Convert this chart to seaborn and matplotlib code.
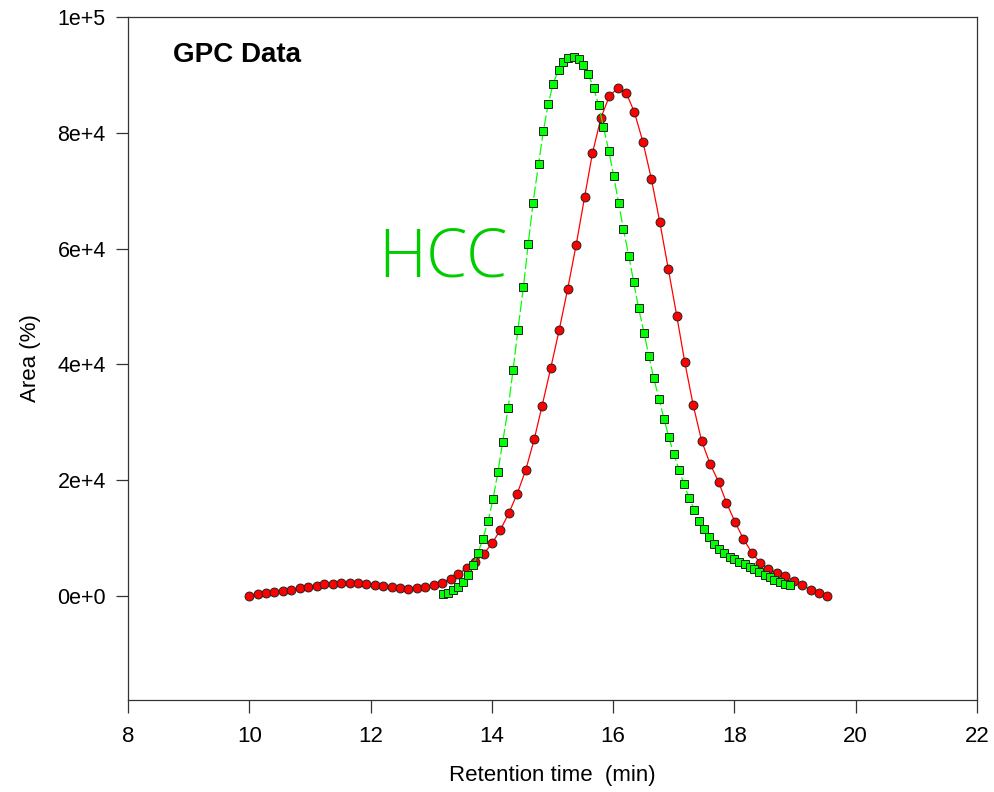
import numpy as np
import pandas as pd
import seaborn as sns
from matplotlib import pyplot as plt

# red circles (sample 1)
red_time = [10.00, 10.14, 10.28, 10.41, 10.55, 10.69, 10.83, 10.97, 11.11, 11.24,
            11.38, 11.52, 11.66, 11.80, 11.93, 12.07, 12.21, 12.35, 12.49, 12.62,
            12.76, 12.90, 13.04, 13.18, 13.32, 13.45, 13.59, 13.73, 13.87, 14.01,
            14.14, 14.28, 14.42, 14.56, 14.70, 14.83, 14.97, 15.11, 15.25, 15.39,
            15.53, 15.66, 15.80, 15.94, 16.08, 16.22, 16.35, 16.49, 16.63, 16.77,
            16.91, 17.05, 17.18, 17.32, 17.46, 17.60, 17.74, 17.87, 18.01, 18.15,
            18.29, 18.43, 18.56, 18.70, 18.84, 18.98, 19.12, 19.26, 19.39, 19.53]
red_area = [0, 345, 518, 750, 920, 1090, 1330, 1550, 1780, 2020,
            2130, 2300, 2300, 2240, 2070, 1840, 1670, 1500, 1330, 1270,
            1380, 1610, 1900, 2300, 2940, 3800, 4890, 5870, 7300, 9200,
            11400, 14300, 17700, 21800, 27100, 32900, 39300, 45900, 53000, 60600,
            68900, 76500, 82600, 86400, 87700, 86800, 83600, 78500, 72100, 64600,
            56500, 48400, 40500, 33000, 26800, 22800, 19700, 16100, 12800, 9850,
            7430, 5700, 4660, 3970, 3450, 2590, 1900, 1040, 520, 0]

# green squares (HCC)
green_time = [13.19, 13.27, 13.36, 13.44, 13.52, 13.60, 13.69, 13.77, 13.85, 13.94,
              14.02, 14.10, 14.18, 14.27, 14.35, 14.43, 14.52, 14.60, 14.68, 14.77,
              14.85, 14.93, 15.01, 15.10, 15.18, 15.26, 15.35, 15.43, 15.51, 15.59,
              15.68, 15.76, 15.84, 15.93, 16.01, 16.09, 16.17, 16.26, 16.34, 16.42,
              16.51, 16.59, 16.67, 16.76, 16.84, 16.92, 17.00, 17.09, 17.17, 17.25,
              17.34, 17.42, 17.50, 17.58, 17.67, 17.75, 17.83, 17.92, 18.00, 18.08,
              18.17, 18.25, 18.33, 18.41, 18.50, 18.58, 18.66, 18.75, 18.83, 18.91]
green_area = [290, 570, 1040, 1610, 2470, 3630, 5300, 7370, 9840, 13000,
              16750, 21360, 26650, 32520, 39030, 45940, 53310, 60790, 67920, 74560,
              80360, 84970, 88480, 90840, 92230, 92970, 93140, 92690, 91650, 90100,
              87790, 84800, 81050, 76850, 72530, 67920, 63330, 58720, 54180, 49740,
              45470, 41450, 37600, 33970, 30570, 27410, 24520, 21760, 19290, 16980,
              14900, 13000, 11520, 10190, 8980, 8120, 7370, 6790, 6340, 5920,
              5470, 5060, 4660, 4090, 3680, 3230, 2760, 2370, 2120, 1900]

yticks = [0, 20000, 40000, 60000, 80000, 100000]
ytick_labels = ['0e+0', '2e+4', '4e+4', '6e+4', '8e+4', '1e+5']
xticks = [8, 10, 12, 14, 16, 18, 20, 22]

sns.set_theme(style='ticks')
plt.rcParams['font.family'] = ['Liberation Sans', 'DejaVu Sans']
plt.rcParams['text.color'] = 'black'
plt.rcParams['axes.labelcolor'] = 'black'

df_red = pd.DataFrame({'t': red_time, 'a': red_area})
df_green = pd.DataFrame({'t': green_time, 'a': green_area})

fig = plt.figure(figsize=(9.94, 7.92), dpi=100)
ax = fig.add_axes([0.1288, 0.1162, 0.854, 0.8623])

sns.lineplot(data=df_red, x='t', y='a', ax=ax, color='#ff0000', lw=0.9,
             marker='o', markersize=6.4, markerfacecolor='#ff0000',
             markeredgecolor='#222222', markeredgewidth=0.7, sort=False,
             estimator=None, zorder=3)
sns.lineplot(data=df_green, x='t', y='a', ax=ax, color='#00ff00', lw=0.9,
             linestyle=(0, (9, 2.5)), marker='s', markersize=5.7,
             markerfacecolor='#00ff00', markeredgecolor='#222222',
             markeredgewidth=0.7, sort=False, estimator=None, zorder=4)

ax.set_xlim(8, 22)
ax.set_ylim(-17960, 100000)
ax.set_xticks(xticks)
ax.set_xticklabels([str(v) for v in xticks])
ax.set_yticks(yticks)
ax.set_yticklabels(ytick_labels)
ax.tick_params(axis='both', direction='out', length=9, width=0.9,
               color='#333333', labelcolor='black')
ax.tick_params(axis='x', labelsize=16, pad=10)
ax.tick_params(axis='y', labelsize=15.5, pad=7)

for side in ['left', 'bottom', 'top', 'right']:
    ax.spines[side].set_visible(True)
    ax.spines[side].set_color('#333333')
    ax.spines[side].set_linewidth(0.9)

ax.set_xlabel('Retention time  (min)', fontsize=16, labelpad=13)
ax.set_ylabel('Area (%)', fontsize=16, labelpad=12)

ax.text(0.053, 0.944, 'GPC Data', transform=ax.transAxes, fontsize=20,
        fontweight='bold', ha='left', va='center')
ax.text(0.295, 0.645, 'HCC', transform=ax.transAxes, fontsize=48,
        color='#00cc00', family=['Open Sans', 'DejaVu Sans'], fontweight='light',
        ha='left', va='center')

plt.savefig('out.png', dpi=100)
